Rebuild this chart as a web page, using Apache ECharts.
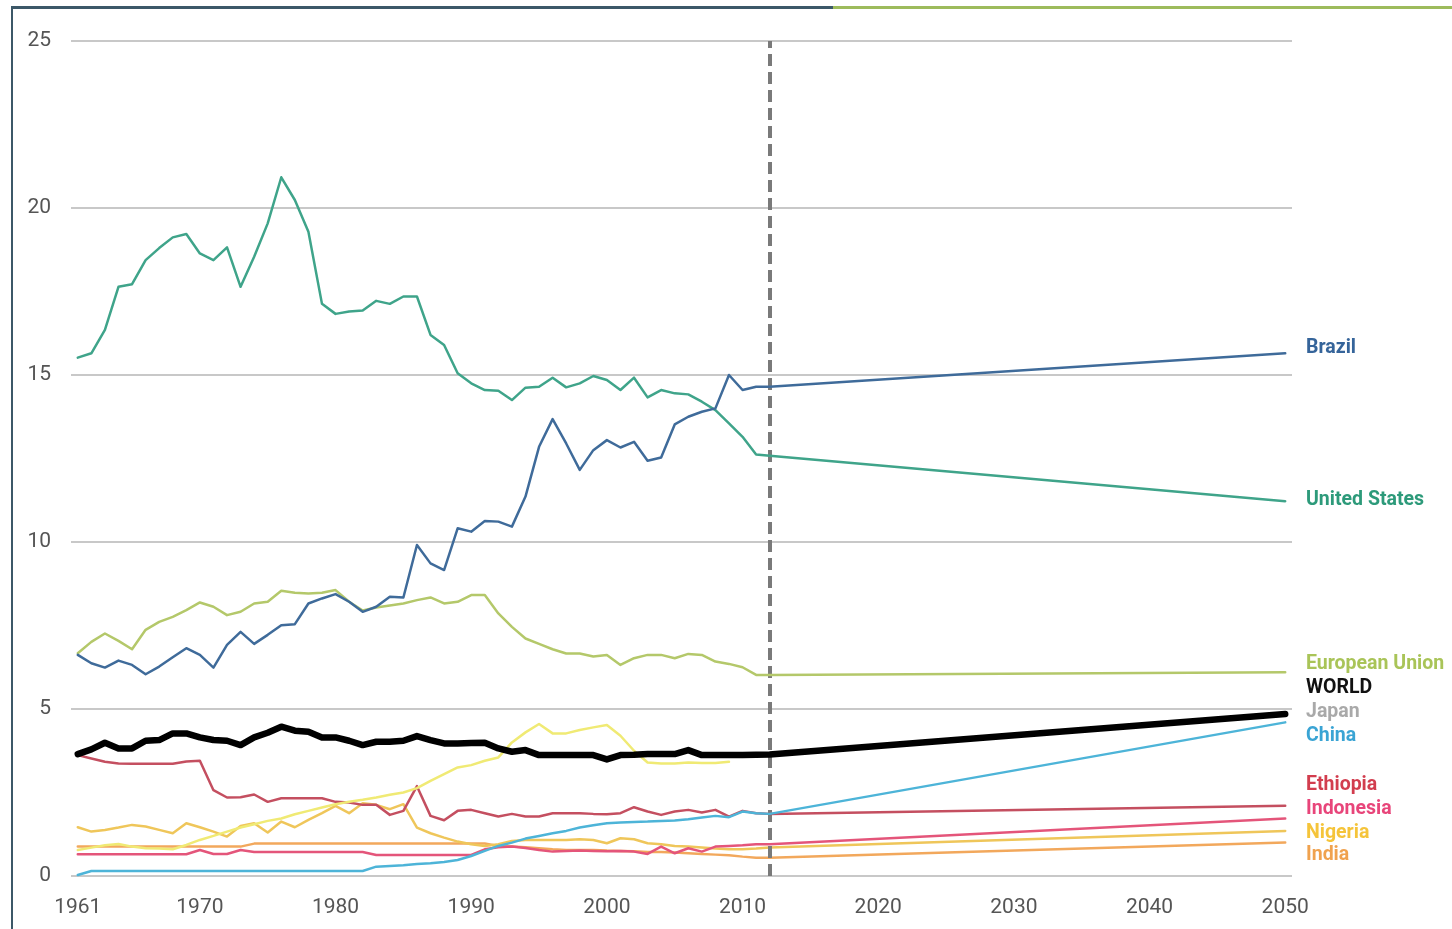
<!DOCTYPE html>
<html>
<head>
<meta charset="utf-8">
<script src="https://cdn.jsdelivr.net/npm/echarts@6/dist/echarts.min.js"></script>
<style>
html,body{margin:0;padding:0;background:#fff;}
#chart{width:1452px;height:929px;}
</style>
</head>
<body>
<div id="chart"></div>
<script>
// ---- data ----
const histYears = [];
for (let y = 1961; y <= 2011; y++) histYears.push(y);
const projYears = [2012, 2050];
const xTickLabels = [1961, 1970, 1980, 1990, 2000, 2010, 2020, 2030, 2040, 2050];
const yTicks = [0, 5, 10, 15, 20, 25];

const usHist = [15.52,15.65,16.35,17.64,17.72,18.44,18.80,19.12,19.22,18.64,
  18.44,18.82,17.64,18.54,19.54,20.92,20.24,19.29,17.13,16.83,
  16.90,16.93,17.22,17.13,17.35,17.35,16.20,15.90,15.05,14.75,
  14.55,14.53,14.25,14.62,14.65,14.92,14.63,14.75,14.97,14.85,
  14.55,14.92,14.33,14.55,14.45,14.42,14.20,13.95,13.55,13.15,12.62];
const usProj = [12.58, 11.22];

const brazilHist = [6.62,6.37,6.24,6.45,6.32,6.04,6.27,6.55,6.82,6.62,
  6.24,6.92,7.31,6.95,7.22,7.51,7.54,8.16,8.31,8.44,
  8.21,7.91,8.06,8.36,8.34,9.91,9.36,9.16,10.41,10.31,
  10.63,10.61,10.46,11.36,12.85,13.68,12.95,12.16,12.75,13.05,
  12.83,13.00,12.43,12.53,13.52,13.75,13.90,14.00,15.00,14.55,14.65];
const brazilProj = [14.65, 15.65];

const euHist = [6.67,7.01,7.26,7.04,6.79,7.37,7.61,7.76,7.96,8.19,
  8.06,7.81,7.91,8.16,8.21,8.54,8.48,8.46,8.48,8.56,
  8.21,7.95,8.04,8.10,8.16,8.26,8.34,8.16,8.21,8.41,
  8.41,7.86,7.46,7.11,6.95,6.79,6.66,6.66,6.57,6.62,
  6.32,6.52,6.62,6.62,6.52,6.65,6.62,6.42,6.35,6.25,6.02];
const euProj = [6.02, 6.10];

const worldHist = [3.65,3.79,3.99,3.82,3.82,4.05,4.07,4.27,4.27,4.15,
  4.07,4.05,3.92,4.15,4.29,4.47,4.35,4.32,4.15,4.15,
  4.05,3.92,4.02,4.02,4.05,4.19,4.07,3.97,3.97,3.98,
  3.99,3.82,3.72,3.77,3.62,3.62,3.62,3.62,3.62,3.49,
  3.62,3.63,3.65,3.65,3.65,3.77,3.62,3.62,3.62,3.62,3.63];
const worldProj = [3.64, 4.85];

const japanHist = [0.78,0.85,0.92,0.96,0.88,0.83,0.82,0.80,0.93,1.08,
  1.20,1.33,1.45,1.55,1.65,1.72,1.85,1.95,2.05,2.15,
  2.22,2.28,2.35,2.43,2.50,2.63,2.85,3.05,3.25,3.32,
  3.45,3.55,4.00,4.30,4.55,4.27,4.27,4.37,4.45,4.52,
  4.20,3.75,3.40,3.37,3.37,3.40,3.38,3.38,3.42,null,null];

const chinaHist = [0.03,0.15,0.15,0.15,0.15,0.15,0.15,0.15,0.15,0.15,
  0.15,0.15,0.15,0.15,0.15,0.15,0.15,0.15,0.15,0.15,
  0.15,0.15,0.28,0.30,0.32,0.36,0.38,0.42,0.48,0.60,
  0.75,0.90,1.00,1.12,1.20,1.28,1.35,1.45,1.52,1.58,
  1.60,1.62,1.63,1.65,1.66,1.70,1.75,1.80,1.76,1.93,1.88];
const chinaProj = [1.86, 4.60];

const ethiopiaHist = [3.62,3.52,3.42,3.37,3.36,3.36,3.36,3.36,3.43,3.45,
  2.57,2.35,2.36,2.44,2.22,2.33,2.33,2.33,2.33,2.22,
  2.20,2.13,2.13,1.83,1.95,2.69,1.80,1.67,1.95,1.98,
  1.88,1.78,1.86,1.78,1.78,1.88,1.88,1.88,1.86,1.85,
  1.88,2.06,1.93,1.83,1.93,1.98,1.90,1.98,1.78,1.95,1.88];
const ethiopiaProj = [1.86, 2.10];

const indonesiaHist = [0.65,0.65,0.65,0.65,0.65,0.65,0.65,0.65,0.65,0.78,
  0.66,0.66,0.78,0.72,0.72,0.72,0.72,0.72,0.72,0.72,
  0.72,0.72,0.63,0.63,0.63,0.63,0.63,0.63,0.63,0.63,
  0.80,0.86,0.88,0.84,0.78,0.73,0.75,0.76,0.75,0.74,
  0.75,0.73,0.66,0.88,0.68,0.83,0.73,0.88,0.90,0.92,0.95];
const indonesiaProj = [0.95, 1.72];

const nigeriaHist = [1.46,1.33,1.38,1.45,1.53,1.48,1.38,1.28,1.58,1.46,
  1.33,1.18,1.50,1.58,1.30,1.63,1.46,1.68,1.88,2.10,
  1.88,2.18,2.13,2.00,2.15,1.45,1.28,1.15,1.03,0.95,
  0.90,0.95,1.05,1.08,1.08,1.08,1.08,1.10,1.08,0.98,
  1.13,1.10,0.98,0.95,0.90,0.88,0.85,0.82,0.80,0.80,0.82];
const nigeriaProj = [0.85, 1.35];

const indiaHist = [0.88,0.88,0.88,0.88,0.88,0.88,0.88,0.88,0.88,0.88,
  0.88,0.88,0.88,0.97,0.97,0.97,0.97,0.97,0.97,0.97,
  0.97,0.97,0.97,0.97,0.97,0.97,0.97,0.97,0.97,0.97,
  0.97,0.90,0.88,0.86,0.83,0.80,0.78,0.78,0.78,0.76,
  0.75,0.74,0.72,0.72,0.70,0.68,0.66,0.64,0.62,0.58,0.55];
const indiaProj = [0.55, 1.00];

const projectionStartYear = 2012;

// ---- build ----
function pairs(hist, proj) {
  const d = histYears.map((y, i) => [y, hist[i]]);
  if (proj) projYears.forEach((y, i) => d.push([y, proj[i]]));
  return d;
}

const seriesDefs = [
  { name: 'India', hist: indiaHist, proj: indiaProj, color: '#f2a85c', label: '#f0a24e', w: 2.5 },
  { name: 'Nigeria', hist: nigeriaHist, proj: nigeriaProj, color: '#efc65a', label: '#f5c43a', w: 2.5 },
  { name: 'Indonesia', hist: indonesiaHist, proj: indonesiaProj, color: '#e4557a', label: '#e8457a', w: 2.5 },
  { name: 'Ethiopia', hist: ethiopiaHist, proj: ethiopiaProj, color: '#c44f60', label: '#d23d4e', w: 2.5 },
  { name: 'China', hist: chinaHist, proj: chinaProj, color: '#4db4d8', label: '#3aa4d4', w: 2.5 },
  { name: 'Japan', hist: japanHist, proj: null, color: '#f0ea74', label: '#a9a9a9', w: 2.5 },
  { name: 'European Union', hist: euHist, proj: euProj, color: '#b4c86a', label: '#a9c458', w: 2.5 },
  { name: 'United States', hist: usHist, proj: usProj, color: '#3fa48a', label: '#2d9a7a', w: 2.5 },
  { name: 'Brazil', hist: brazilHist, proj: brazilProj, color: '#3f6b9a', label: '#35649a', w: 2.5 },
  { name: 'WORLD', hist: worldHist, proj: worldProj, color: '#000000', label: '#111111', w: 6.5 }
];

const series = seriesDefs.map((s, idx) => ({
  name: s.name,
  type: 'line',
  data: pairs(s.hist, s.proj),
  showSymbol: false,
  symbol: 'none',
  connectNulls: false,
  lineStyle: { color: s.color, width: s.w, join: 'round', cap: 'round' },
  z: 2 + idx,
  silent: true,
  animation: false
}));

// dashed projection divider
series.push({
  type: 'line',
  data: [],
  silent: true,
  animation: false,
  markLine: {
    symbol: 'none',
    silent: true,
    label: { show: false },
    lineStyle: { color: '#7a7a7a', width: 4, type: [12, 6] },
    data: [{ xAxis: projectionStartYear }]
  },
  z: 20
});

// right-hand labels
const labelFont = '"Liberation Sans Narrow", Roboto, "Liberation Sans", Arial, sans-serif';
const labelRows = [
  ['Brazil', 349], ['United States', 501], ['European Union', 665], ['WORLD', 689],
  ['Japan', 713], ['China', 737], ['Ethiopia', 786], ['Indonesia', 810],
  ['Nigeria', 834], ['India', 856]
];
const graphics = labelRows.map(([name, y]) => {
  const def = seriesDefs.find(s => s.name === name);
  return {
    type: 'text', left: 1306, top: y - 11, silent: true,
    style: { text: name, fill: def.label, font: 'bold 19.5px ' + labelFont }
  };
});
// frame lines
graphics.push({ type: 'rect', shape: { x: 12, y: 6, width: 821, height: 3 }, style: { fill: '#3c5868' }, silent: true });
graphics.push({ type: 'rect', shape: { x: 833, y: 6, width: 619, height: 3 }, style: { fill: '#9dbb5c' }, silent: true });
graphics.push({ type: 'rect', shape: { x: 11, y: 6, width: 2, height: 923 }, style: { fill: '#3c5868' }, silent: true });

const chart = echarts.init(document.getElementById('chart'), null, { renderer: 'canvas' });
chart.setOption({
  backgroundColor: '#ffffff',
  animation: false,
  grid: { left: 71, right: 160, top: 41, bottom: 53, containLabel: false },
  xAxis: {
    type: 'value',
    min: 1960.5,
    max: 2050.5,
    axisLine: { show: false },
    axisTick: { show: false },
    splitLine: { show: false },
    axisLabel: {
      customValues: xTickLabels,
      formatter: v => String(v),
      color: '#555555',
      fontSize: 21,
      fontFamily: labelFont,
      margin: 21
    }
  },
  yAxis: {
    type: 'value',
    min: yTicks[0],
    max: yTicks[yTicks.length - 1],
    interval: 5,
    axisLine: { show: false },
    axisTick: { show: false },
    splitLine: { show: true, lineStyle: { color: '#c8c8c8', width: 2 } },
    axisLabel: {
      color: '#555555',
      fontSize: 21,
      fontFamily: labelFont,
      margin: 20
    }
  },
  series: series,
  graphic: graphics
});
</script>
</body>
</html>
